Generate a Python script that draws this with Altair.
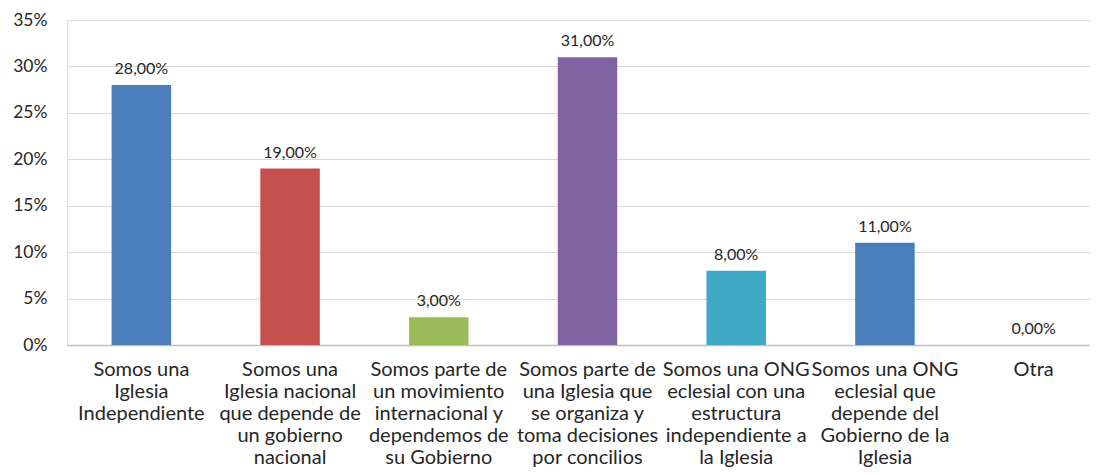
import altair as alt
import pandas as pd

categories = [
    "Somos una|Iglesia|Independiente",
    "Somos una|Iglesia nacional|que depende de|un gobierno|nacional",
    "Somos parte de|un movimiento|internacional y|dependemos de|su Gobierno",
    "Somos parte de|una Iglesia que|se organiza y|toma decisiones|por concilios",
    "Somos una ONG|eclesial con una|estructura|independiente a|la Iglesia",
    "Somos una ONG|eclesial que|depende del|Gobierno de la|Iglesia",
    "Otra",
]
values = [28.0, 19.0, 3.0, 31.0, 8.0, 11.0, 0.0]
bar_colors = ["#4A7EBB", "#C6504D", "#9BBB59", "#8064A2", "#3FA9C5", "#4A7EBB", "#4A7EBB"]
y_ticks = [0, 0.05, 0.10, 0.15, 0.20, 0.25, 0.30, 0.35]

df = pd.DataFrame({
    "cat": categories,
    "val": [v / 100 for v in values],
    "lbl": [f"{v:.2f}".replace(".", ",") + "%" for v in values],
})

FONT = "Lato"
TXT = "#262626"

base = alt.Chart(df).encode(
    x=alt.X(
        "cat:N",
        sort=categories,
        scale=alt.Scale(paddingInner=0.6, paddingOuter=0.3),
        axis=alt.Axis(
            title=None,
            labelExpr="split(datum.label, '|')",
            labelAngle=0,
            labelFont=FONT,
            labelFontSize=20,
            labelLineHeight=22,
            labelColor=TXT,
            labelPadding=14,
            labelLimit=300,
            ticks=False,
            domainColor="#bfbfbf",
            domainWidth=1.5,
            grid=False,
        ),
    ),
)

bars = base.mark_bar().encode(
    y=alt.Y(
        "val:Q",
        scale=alt.Scale(domain=[0, 0.35], nice=False),
        axis=alt.Axis(
            title=None,
            values=y_ticks,
            format=".0%",
            labelFont=FONT,
            labelFontSize=17.5,
            labelColor=TXT,
            labelPadding=20,
            ticks=False,
            tickSize=0,
            domain=False,
            gridColor="#d9d9d9",
            gridWidth=1,
        ),
    ),
    color=alt.Color("cat:N", scale=alt.Scale(domain=categories, range=bar_colors), legend=None),
)

texts = base.mark_text(baseline="bottom", dy=-8, font=FONT, fontSize=16, color=TXT).encode(
    y=alt.Y("val:Q"),
    text="lbl:N",
)

chart = (
    alt.layer(bars, texts)
    .properties(
        width=1041,
        height=325,
        autosize=alt.AutoSizeParams(type="none"),
        padding={"left": 59, "top": 12, "right": -18, "bottom": 122},
    )
    .configure_view(stroke=None)
    .configure(background="white")
)

chart.save("out.html", embed_options={"renderer": "svg", "actions": False})
